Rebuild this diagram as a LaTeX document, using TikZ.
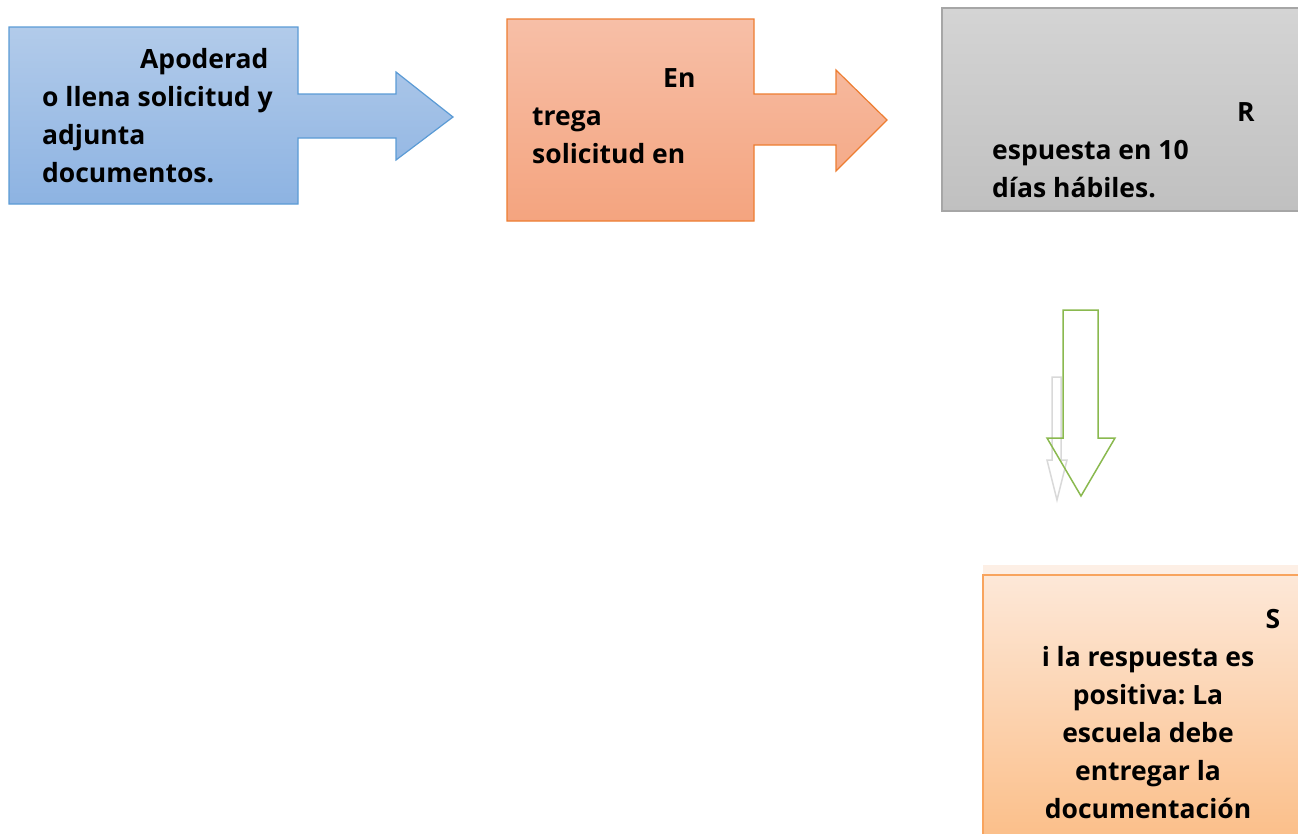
\documentclass[tikz,border=0pt]{standalone}
\usepackage{fontspec}
\setmainfont{Open Sans}
\frenchspacing
\definecolor{blueedge}{HTML}{5B9BD5}
\definecolor{bluetop}{HTML}{B2CBEA}
\definecolor{bluebot}{HTML}{8DB3E2}
\definecolor{orangeedge}{HTML}{ED7D31}
\definecolor{orangetop}{HTML}{F7BFA7}
\definecolor{orangebot}{HTML}{F4A47F}
\definecolor{grayedge}{HTML}{A6A6A6}
\definecolor{graytop}{HTML}{D4D4D4}
\definecolor{graybot}{HTML}{C0C0C0}
\definecolor{greenedge}{HTML}{8AB94F}
\definecolor{peachedge}{HTML}{F8A45E}
\definecolor{peachtop}{HTML}{FDE8D8}
\definecolor{peachbot}{HTML}{FBBD86}
\definecolor{peachband}{HTML}{FDEFE5}
\tikzset{
  boxtext/.style={inner sep=0pt, font=\fontsize{26.5}{38}\selectfont\bfseries},
}
\begin{document}
\begin{tikzpicture}[x=1pt, y=-1pt]
\useasboundingbox (0,0) rectangle (1298,833);
\clip (0,0) rectangle (1298,833);

% step 1
\draw[blueedge, line width=1.2pt, top color=bluetop, bottom color=bluebot]
  (9,27) -- (298,27) -- (298,94) -- (396,94) -- (396,72) -- (453,117)
  -- (396,160) -- (396,138) -- (298,138) -- (298,204) -- (9,204) -- cycle;
\node[boxtext, anchor=base west, align=left] (apoderado) at (42,182)
  {\hspace*{98pt}Apoderad\\o llena solicitud y\\adjunta\\documentos.};

% step 2
\draw[orangeedge, line width=1.2pt, top color=orangetop, bottom color=orangebot]
  (507,19) -- (754,19) -- (754,94) -- (836,94) -- (836,70) -- (887,120)
  -- (836,171) -- (836,145) -- (754,145) -- (754,221) -- (507,221) -- cycle;
\node[boxtext, anchor=base west, align=left] (entrega) at (532,163)
  {\hspace*{131pt}En\\trega\\solicitud en};

% step 3
\draw[grayedge, line width=1.2pt, top color=graytop, bottom color=graybot]
  (942,8) rectangle (1310,211);
\node[boxtext, anchor=base west, align=left] (respuesta) at (992,197)
  {\hspace*{245pt}R\\espuesta en 10\\días hábiles.};

% down arrow
\draw[black!15, line width=1.5pt]
  (1052,377) -- (1061,377) -- (1061,460) -- (1067,460) -- (1057,500)
  -- (1047,460) -- (1052,460) -- cycle;
\draw[greenedge, line width=1.5pt]
  (1063,310) -- (1098,310) -- (1098,438) -- (1115,438) -- (1081,496)
  -- (1047,438) -- (1063,438) -- cycle;

% step 4
\fill[peachband] (983,565) rectangle (1310,575);
\draw[peachedge, line width=1.2pt, top color=peachtop, bottom color=peachbot]
  (983,850) -- (983,575) -- (1310,575) -- (1310,850);
\node[boxtext, anchor=base, align=center] (positiva) at (1148,818)
  {\hspace*{250pt}S\\i la respuesta es\\positiva: La\\escuela debe\\entregar la\\documentación};
\end{tikzpicture}
\end{document}
